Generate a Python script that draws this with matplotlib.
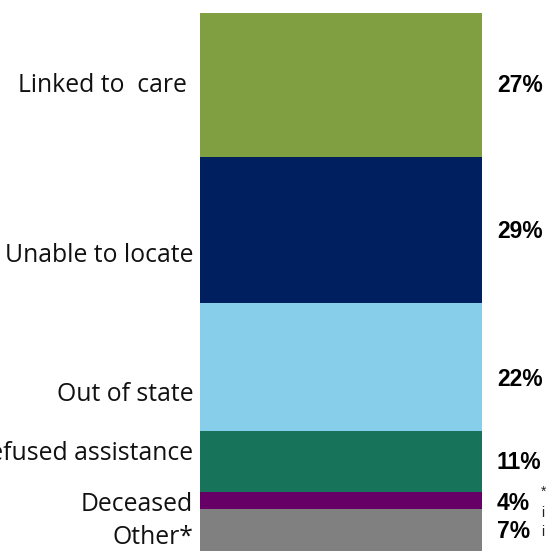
#stacked bar of case outcomes
import matplotlib.pyplot as plt
from matplotlib.transforms import blended_transform_factory

# data (segment sizes, labels as printed)
categories = ["Linked to  care ", "Unable to locate", "Out of state",
              "Refused assistance", "Deceased", "Other*"]
segSizes = [26.8, 27.1, 23.8, 11.3, 3.2, 7.8]
pctLabels = ["27%", "29%", "22%", "11%", "4%", "7%"]
colors = ["#7f9f41", "#001f5f", "#87ceea", "#17745a", "#660066", "#808080"]

# where the text sits (in bar units, 0 = top)
catY = [13.4, 45.0, 71.0, 81.8, 91.4, 97.4]
pctY = [13.4, 40.7, 68.2, 83.5, 91.1, 96.4]

fig = plt.figure(figsize=(5.46, 5.51), dpi=100)
ax = fig.add_axes([200 / 546, 0, 282 / 546, 538 / 551])

bottom = 0
for size, col in zip(segSizes, colors):
    ax.bar(0, size, bottom=bottom, width=1.0, color=col, linewidth=0)
    bottom += size

ax.set_xlim(-0.5, 0.5)
ax.set_ylim(sum(segSizes), 0)
ax.axis("off")

trans = blended_transform_factory(ax.transAxes, ax.transData)
for name, y in zip(categories, catY):
    ax.text(-0.024, y, name, transform=trans, ha="right", va="center",
            fontsize=17.8, family="Open Sans", color="#111111", clip_on=False)
for lab, y in zip(pctLabels, pctY):
    ax.text(1.053, y, lab, transform=trans, ha="left", va="center",
            fontsize=16.5, family="Liberation Sans", fontweight="bold",
            color="black", clip_on=False)

# footnote, cut off by the right edge
for txt, ypx in zip(["*", "i", "i"], [492, 513, 532]):
    fig.text(541 / 546, 1 - ypx / 551, txt, ha="left", va="center",
             fontsize=10, family="Liberation Sans", color="#222222")

fig.savefig("out.png", dpi=100)
